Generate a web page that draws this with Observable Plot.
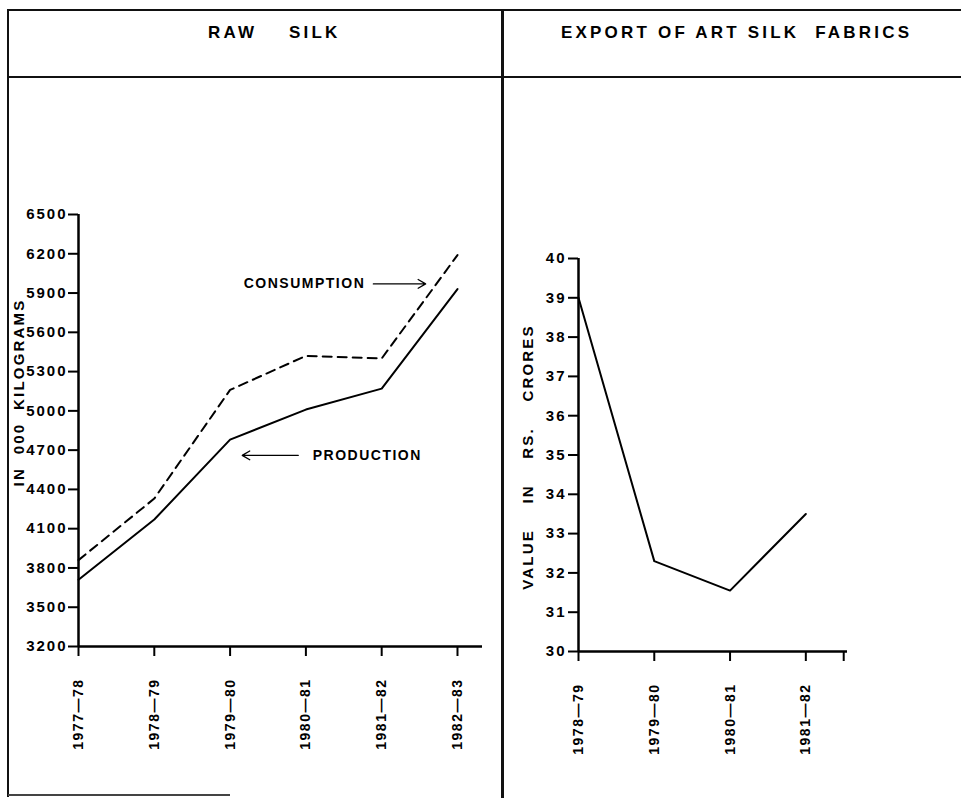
<!DOCTYPE html>
<html>
<head>
<meta charset="utf-8">
<script src="https://cdn.jsdelivr.net/npm/d3@7"></script>
<script src="https://cdn.jsdelivr.net/npm/@observablehq/plot@0.6"></script>
<style>
  body { margin: 0; background: #fff; }
  #page { position: relative; width: 961px; height: 798px; overflow: hidden;
          font-family: "Liberation Sans", Arial, sans-serif; font-weight: bold; color: #000; background: #fff; }
  .ln { position: absolute; background: #111; }
  .title { position: absolute; white-space: pre; font-size: 17px; font-weight: bold; letter-spacing: 3.2px; line-height: 17px; }
  .panel { position: absolute; top: 0; }
  #page svg text { letter-spacing: 1.5px; font-weight: bold; }
  #page svg g[aria-label="y-axis tick label"] text { letter-spacing: 2px; }
  #page svg .ylab text { letter-spacing: 2.2px; }
</style>
</head>
<body>
<div id="page">
  <div class="ln" style="left:8px;top:9px;width:953px;height:2px;"></div>
  <div class="ln" style="left:7px;top:9px;width:2px;height:788px;"></div>
  <div class="ln" style="left:8px;top:76px;width:953px;height:2px;"></div>
  <div class="ln" style="left:501px;top:9px;width:3px;height:789px;"></div>
  <div class="ln" style="left:8px;top:794px;width:222px;height:2px;background:#444;"></div>
  <div class="title" style="left:208px;top:24px;">RAW    SILK</div>
  <div class="title" style="left:561px;top:24px;">EXPORT OF ART SILK  FABRICS</div>
  <div class="panel" id="left" style="left:0px;"></div>
  <div class="panel" id="right" style="left:503px;"></div>
</div>
<script>
// ---- Raw silk (in '000 kilograms) ----
const rawYears = ["1977—78", "1978—79", "1979—80", "1980—81", "1981—82", "1982—83"];
const production = [3710, 4170, 4780, 5010, 5170, 5930];
const consumption = [3860, 4330, 5160, 5420, 5400, 6190];
const rawTicks = [3200, 3500, 3800, 4100, 4400, 4700, 5000, 5300, 5600, 5900, 6200, 6500];
const rawYLabel = "IN  000  KILOGRAMS";

// ---- Export of art silk fabrics (value in Rs. crores) ----
const exportYears = ["1978—79", "1979—80", "1980—81", "1981—82"];
const exportValue = [39.0, 32.3, 31.55, 33.5];
const exportTicks = [30, 31, 32, 33, 34, 35, 36, 37, 38, 39, 40];
const exportYLabel = "VALUE    IN    RS.    CRORES";

const rawProd = production.map((v, i) => ({i, v}));
const rawCons = consumption.map((v, i) => ({i, v}));
const expData = exportValue.map((v, i) => ({i, v}));

const baseStyle = {fontFamily: "Liberation Sans, Arial, sans-serif", fontWeight: "bold", fontSize: "15px", background: "transparent", overflow: "visible"};

const left = Plot.plot({
  width: 503, height: 798,
  marginLeft: 78, marginRight: 21, marginTop: 214, marginBottom: 152,
  style: baseStyle,
  x: {domain: [0, 5.33]},
  y: {domain: [3200, 6500]},
  marks: [
    Plot.axisY({ticks: rawTicks, tickFormat: d => String(d), tickSize: 10, tickPadding: 1, strokeWidth: 2, fontSize: 15, label: null}),
    Plot.axisX({ticks: d3.range(rawYears.length), tickFormat: i => rawYears[i], tickRotate: -90, tickSize: 10, tickPadding: 22, strokeWidth: 2, fontSize: 14, label: null}),
    Plot.ruleX([0], {y1: 3200, y2: 6500, strokeWidth: 2.5}),
    Plot.ruleY([3200], {x1: 0, x2: 5.33, strokeWidth: 2.5}),
    Plot.line(rawProd, {x: "i", y: "v", stroke: "#000", strokeWidth: 2}),
    Plot.line(rawCons, {x: "i", y: "v", stroke: "#000", strokeWidth: 2, strokeDasharray: "9,6"}),
    Plot.text(["CONSUMPTION"], {x: 2.18, y: 5970, textAnchor: "start", fontSize: 14}),
    Plot.arrow([0], {x1: 3.89, y1: 5970, x2: 4.58, y2: 5970, strokeWidth: 1.3, headLength: 10, bend: 0}),
    Plot.text(["PRODUCTION"], {x: 3.09, y: 4660, textAnchor: "start", fontSize: 14}),
    Plot.arrow([0], {x1: 2.90, y1: 4660, x2: 2.16, y2: 4660, strokeWidth: 1.3, headLength: 10, bend: 0}),
    Plot.text([rawYLabel], {frameAnchor: "left", rotate: -90, dx: -59, dy: -38, textAnchor: "middle", lineAnchor: "middle", fontSize: 15, className: "ylab"})
  ]
});
document.getElementById("left").appendChild(left);

const right = Plot.plot({
  width: 458, height: 798,
  marginLeft: 75, marginRight: 114, marginTop: 258, marginBottom: 147,
  style: baseStyle,
  x: {domain: [0, 3.55]},
  y: {domain: [30, 40]},
  marks: [
    Plot.axisY({ticks: exportTicks, tickFormat: d => String(d), tickSize: 10, tickPadding: 2, strokeWidth: 2, fontSize: 15, label: null}),
    Plot.axisX({ticks: [...d3.range(exportYears.length), 3.5], tickFormat: i => exportYears[i] ?? "", tickRotate: -90, tickSize: 10, tickPadding: 22, strokeWidth: 2, fontSize: 14, label: null}),
    Plot.ruleX([0], {y1: 30, y2: 40, strokeWidth: 2.5}),
    Plot.ruleY([30], {x1: 0, x2: 3.55, strokeWidth: 2.5}),
    Plot.line(expData, {x: "i", y: "v", stroke: "#000", strokeWidth: 2}),
    Plot.text([exportYLabel], {frameAnchor: "left", rotate: -90, dx: -50, dy: 2, textAnchor: "middle", lineAnchor: "middle", fontSize: 15, className: "ylab"})
  ]
});
document.getElementById("right").appendChild(right);
</script>
</body>
</html>
